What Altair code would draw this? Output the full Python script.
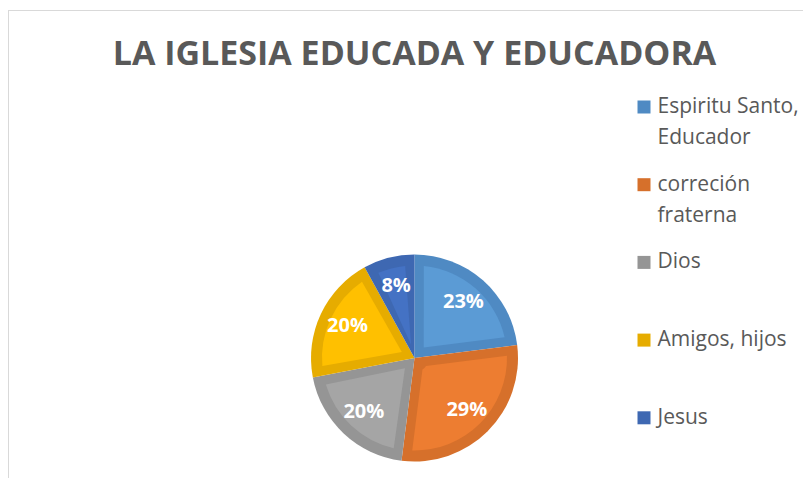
import altair as alt
import pandas as pd

categories = ["Espiritu Santo, Educador", "correción fraterna", "Dios", "Amigos, hijos", "Jesus"]
legend_lines = [["Espiritu Santo,", "Educador"], ["correción", "fraterna"], ["Dios"], ["Amigos, hijos"], ["Jesus"]]
shares = [0.23, 0.29, 0.20, 0.20, 0.08]
order_idx = [1, 2, 3, 4, 5]
outer_colors = ["#4F8AC3", "#D6702B", "#959595", "#E6AC00", "#3E68B2"]
inner_colors = ["#5B9BD5", "#ED7D31", "#A5A5A5", "#FFC000", "#4472C4"]
title_text = "LA IGLESIA EDUCADA Y EDUCADORA"

df = pd.DataFrame({"cat": categories, "share": shares, "idx": order_idx})

# label expression for multi-line legend labels
parts = []
for cat, lines in zip(categories, legend_lines):
    if len(lines) > 1:
        arr = "[" + ", ".join("'" + s + "'" for s in lines) + "]"
        parts.append(f"datum.label == '{cat}' ? {arr}")
label_expr = " : ".join(parts) + " : datum.label"

W = H = 240
L, T = 286.5, 230
TOTAL_W, TOTAL_H = 795, 470

base = alt.Chart(df).encode(
    theta=alt.Theta("share:Q", stack=True),
    order=alt.Order("idx:Q"),
)

outer = base.mark_arc(outerRadius=103.5).encode(
    color=alt.Color(
        "cat:N",
        scale=alt.Scale(domain=categories, range=outer_colors),
        sort=categories,
        legend=alt.Legend(
            title=None, orient="none", legendX=339, legendY=-141.5,
            symbolType="square", symbolSize=169, symbolStrokeWidth=0,
            labelFont="Open Sans", labelFontSize=21, labelColor="#595959",
            labelLimit=220, labelOffset=3, rowPadding=24.7, gridAlign="all",
            labelExpr=label_expr, padding=0,
        ),
    )
)

inner = base.mark_arc(outerRadius=92.5, innerRadius=14, padAngle=0.2).encode(
    color=alt.Color("cat:N", scale=alt.Scale(domain=categories, range=inner_colors), legend=None)
)

labels = base.mark_text(radius=74, font="Open Sans", fontSize=20, fontWeight="bold", color="white").encode(
    text=alt.Text("share:Q", format=".0%")
)

frame_df = pd.DataFrame({"f": [0]})
frame_top = alt.Chart(frame_df).mark_rule(color="#D9D9D9", strokeWidth=1).encode(
    x=alt.value(-L), x2=alt.value(TOTAL_W - L), y=alt.value(2 - T + 0.5)
)
frame_left = alt.Chart(frame_df).mark_rule(color="#D9D9D9", strokeWidth=1).encode(
    x=alt.value(-L + 0.5), y=alt.value(2 - T), y2=alt.value(H)
)

chart = alt.layer(frame_top, frame_left, outer, inner, labels).resolve_scale(
    color="independent"
).properties(
    width=W, height=H,
    padding={"left": L, "top": T, "right": TOTAL_W - L - W, "bottom": TOTAL_H - T - H},
    autosize="none",
    title=alt.TitleParams(
        text=title_text, font="Open Sans", fontSize=34, fontWeight="bold",
        color="#595959", anchor="middle", frame="group", offset=0, dy=89, baseline="alphabetic",
    ),
).configure(
    style={"guide-label": {"lineHeight": 31}},
    view=alt.ViewConfig(strokeWidth=0),
)

chart.save("out.html", embed_options={"renderer": "svg", "actions": False})
